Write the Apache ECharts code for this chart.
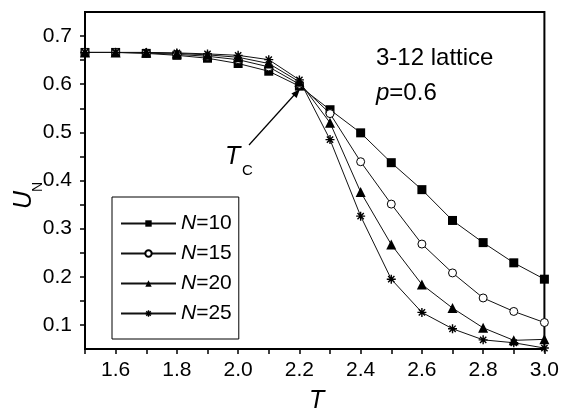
<!DOCTYPE html>
<html>
<head>
<meta charset="utf-8">
<script src="https://cdn.jsdelivr.net/npm/echarts@6/dist/echarts.min.js"></script>
<style>
html,body{margin:0;padding:0;background:#fff;}
#chart{width:562px;height:416px;}
</style>
</head>
<body>
<div id="chart"></div>
<script>
const T = [1.5,1.6,1.7,1.8,1.9,2.0,2.1,2.2,2.3,2.4,2.5,2.6,2.7,2.8,2.9,3.0];
const N10 = [0.666,0.666,0.664,0.660,0.654,0.643,0.627,0.596,0.547,0.499,0.437,0.381,0.317,0.271,0.229,0.195];
const N15 = [0.666,0.666,0.665,0.662,0.658,0.651,0.636,0.600,0.539,0.439,0.351,0.268,0.208,0.156,0.128,0.105];
const N20 = [0.666,0.666,0.666,0.664,0.661,0.656,0.643,0.605,0.520,0.376,0.267,0.184,0.135,0.094,0.068,0.070];
const N25 = [0.666,0.666,0.666,0.665,0.663,0.660,0.651,0.609,0.485,0.326,0.195,0.126,0.092,0.069,0.063,0.052];
const seriesNames = ['N=10','N=15','N=20','N=25'];
const xLabelTicks = [1.6,1.8,2.0,2.2,2.4,2.6,2.8,3.0];
const yLabelTicks = [0.1,0.2,0.3,0.4,0.5,0.6,0.7];
const yMinorTicks = [0.1,0.15,0.2,0.25,0.3,0.35,0.4,0.45,0.5,0.55,0.6,0.65,0.7];

const FONT = '"Liberation Sans", Arial, Helvetica, sans-serif';
const pair = arr => T.map((t,i)=>[t,arr[i]]);
const asterisk = 'path://M5,0L5,10M0,5L10,5M1.5,1.5L8.5,8.5M1.5,8.5L8.5,1.5';

function mk(name, data, symbol, size, itemStyle){
  return {
    name, type:'line', data: pair(data), symbol, symbolSize:size,
    showAllSymbol:true,
    lineStyle:{color:'#111', width:1},
    itemStyle, emphasis:{disabled:true}, z: 3
  };
}

const chart = echarts.init(document.getElementById('chart'), null, {renderer:'canvas'});
const option = {
  animation:false,
  backgroundColor:'#fff',
  textStyle:{fontFamily:FONT},
  grid:{left:85, right:17, top:12, bottom:67, show:true, borderColor:'#000', borderWidth:2, backgroundColor:'transparent'},
  xAxis:{
    type:'value', min:1.5, max:3.0, interval:0.1,
    axisLine:{show:true, lineStyle:{color:'#000', width:2}},
    axisTick:{show:true, inside:false, length:5, lineStyle:{color:'#000', width:1.5}},
    axisLabel:{customValues:xLabelTicks, color:'#000', fontSize:21, fontFamily:FONT, margin:11,
      formatter:v=>v.toFixed(1)},
    splitLine:{show:false}
  },
  yAxis:{
    type:'value', min:0.05, max:0.75,
    axisLine:{show:true, lineStyle:{color:'#000', width:2}},
    axisTick:{show:true, inside:false, length:5, customValues:yMinorTicks, lineStyle:{color:'#000', width:1.5}},
    axisLabel:{customValues:yLabelTicks, color:'#000', fontSize:21, fontFamily:FONT, margin:13,
      formatter:v=>v.toFixed(1)},
    splitLine:{show:false}
  },
  legend:{
    orient:'vertical', left:112, top:197,
    borderColor:'#000', borderWidth:1, padding:[16,7,15,8],
    itemWidth:55, itemHeight:8, itemGap:9, itemTextGap:5,
    backgroundColor:'#fff',
    data:[
      {name:seriesNames[0]},
      {name:seriesNames[1]},
      {name:seriesNames[2]},
      {name:seriesNames[3], itemStyle:{color:'#000', borderColor:'#000', borderWidth:1.4}}
    ],
    formatter: n => '{i|N}' + n.slice(1),
    textStyle:{color:'#000', fontSize:21, fontFamily:FONT, lineHeight:20,
      rich:{i:{fontStyle:'italic', fontSize:21, fontFamily:FONT, color:'#000', lineHeight:20}}}
  },
  series:[
    mk(seriesNames[0], N10, 'rect', 9, {color:'#000'}),
    mk(seriesNames[1], N15, 'circle', 8, {color:'#fff', borderColor:'#000', borderWidth:1}),
    mk(seriesNames[2], N20, 'triangle', 10, {color:'#000'}),
    mk(seriesNames[3], N25, asterisk, 9, {color:'#000', borderColor:'#000', borderWidth:1.4})
  ],
  graphic:[
    {type:'text', left:376, top:46, style:{text:'3-12 lattice', font:'24px '+FONT, fill:'#000'}},
    {type:'text', left:376, top:81, style:{text:'{i|p}=0.6', font:'24px '+FONT, fill:'#000',
      rich:{i:{fontStyle:'italic', fontSize:24, fontFamily:FONT}}}},
    {type:'line', shape:{x1:249, y1:145, x2:296, y2:93}, style:{stroke:'#000', lineWidth:1.2}},
    {type:'polygon', shape:{points:[[300,89],[296.6,98.0],[291.4,93.4]]}, style:{fill:'#000'}},
    {type:'text', left:225, top:145, style:{text:'T', font:'italic 25px '+FONT, fill:'#000'}},
    {type:'text', left:242, top:163, style:{text:'C', font:'15px '+FONT, fill:'#000'}},
    {type:'text', x:24, y:200, rotation:Math.PI/2, style:{text:'U', font:'italic 25px '+FONT, fill:'#000', textAlign:'center', textVerticalAlign:'middle'}},
    {type:'text', x:38, y:187, rotation:Math.PI/2, style:{text:'N', font:'14px '+FONT, fill:'#000', textAlign:'center', textVerticalAlign:'middle'}},
    {type:'text', left:309, top:389, style:{text:'T', font:'italic 25px '+FONT, fill:'#000'}}
  ]
};
chart.setOption(option);
</script>
</body>
</html>
